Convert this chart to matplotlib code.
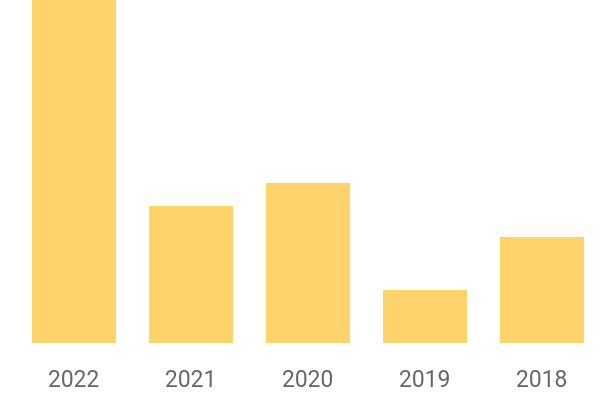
import matplotlib
matplotlib.use('Agg')
import matplotlib.pyplot as plt

years = ['2022', '2021', '2020', '2019', '2018']
values = [343, 137, 160, 53, 106]

BAR = '#fdd36a'
TXT = '#666666'

fig = plt.figure(figsize=(6, 4), dpi=100)
ax = fig.add_axes([0.026, 0.1425, 0.975, 0.8575])
x = range(len(years))
ax.bar(x, values, width=0.72, color=BAR, edgecolor='none')
ax.set_xlim(-0.5, len(years) - 0.5)
ax.set_ylim(0, 343)
ax.set_xticks(list(x))
ax.set_xticklabels(years, fontsize=16.5, color=TXT, family='Roboto')
ax.tick_params(axis='x', length=0, pad=19)
ax.set_yticks([])
for s in ax.spines.values():
    s.set_visible(False)

fig.savefig('out.png', dpi=100, facecolor='white')
